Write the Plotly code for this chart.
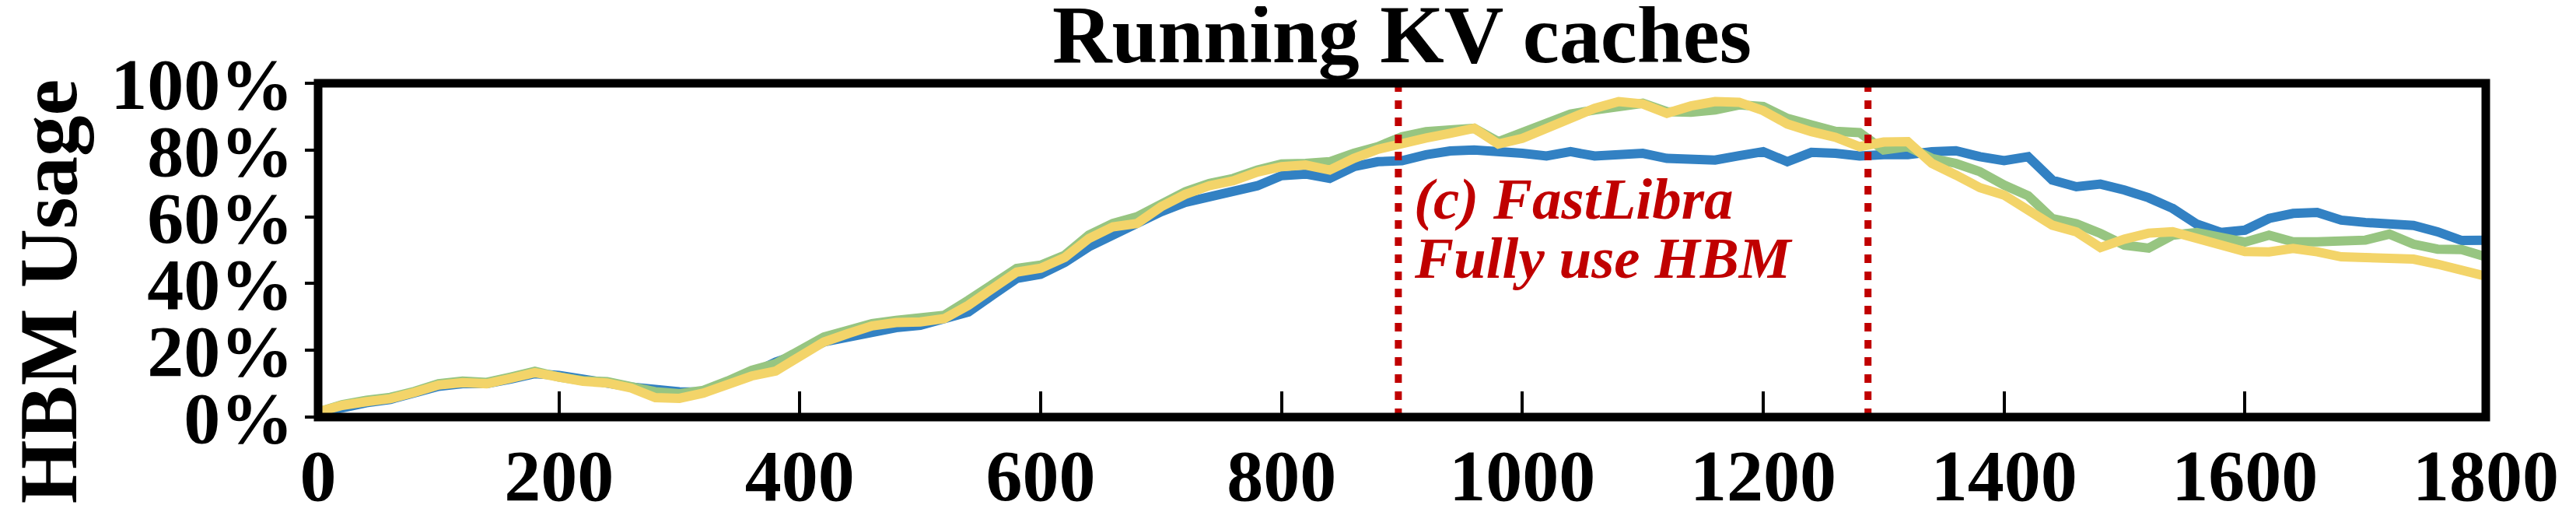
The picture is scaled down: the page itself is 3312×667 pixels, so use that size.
import plotly.graph_objects as go

# ---- data ----
time_s = list(range(0, 1801, 20))

kv_blue = [1.2, 3.0, 4.3, 5.3, 7.2, 9.2, 10.0, 10.0, 11.4, 13.0,
           12.5, 11.0, 10.2, 9.0, 8.2, 7.6, 7.5, 10.0, 13.0, 16.5,
           19.0, 22.5, 24.0, 25.8, 26.8, 27.5, 29.5, 31.5, 36.5, 41.5,
           42.8, 46.3, 51.0, 54.5, 58.5, 61.5, 64.3, 66.0, 67.5, 69.3,
           72.3, 72.8, 71.5, 75.0, 76.5, 76.8, 78.6, 79.7, 80.0, 79.8,
           79.0, 78.2, 79.5, 78.2, 78.5, 79.0, 77.5, 77.3, 77.0, 78.3,
           79.5, 76.5, 79.3, 79.0, 78.2, 78.6, 78.6, 79.5, 79.8, 78.0,
           76.8, 78.0, 71.0, 69.0, 69.8, 68.0, 65.7, 62.5, 57.8, 55.3,
           56.0, 59.5, 61.0, 61.3, 59.0, 58.3, 57.8, 57.4, 55.5, 52.9,
           53.0]

kv_green = [1.5, 3.7, 5.0, 5.9, 7.7, 10.0, 10.8, 10.4, 12.0, 13.7,
            12.0, 10.9, 10.6, 9.0, 7.6, 7.0, 8.0, 10.8, 14.0, 16.0,
            20.0, 24.0, 26.0, 28.0, 29.0, 29.5, 30.5, 35.0, 40.0, 44.5,
            45.5, 48.5, 54.5, 58.0, 60.0, 64.0, 67.5, 70.0, 71.5, 74.0,
            75.8, 76.0, 76.5, 79.0, 81.0, 84.0, 85.5, 86.0, 86.5, 82.5,
            85.5, 88.0, 90.8, 92.0, 92.8, 94.0, 91.5, 91.3, 92.0, 93.5,
            93.0, 89.5, 87.5, 85.6, 85.2, 80.0, 81.0, 77.5, 76.0, 73.5,
            69.5, 66.3, 59.5, 57.9, 55.0, 51.5, 50.6, 54.5, 55.3, 54.0,
            52.4, 54.5, 52.5, 52.5, 52.8, 53.0, 54.8, 51.8, 50.3, 50.2,
            48.0]

kv_yellow = [1.5, 3.5, 4.6, 5.5, 7.4, 9.6, 10.3, 10.0, 11.6, 13.3,
             12.0, 10.7, 10.2, 8.7, 5.8, 5.6, 7.2, 9.8, 12.3, 13.8,
             17.8, 22.5, 25.0, 27.3, 28.3, 28.5, 29.5, 33.5, 38.5, 43.4,
             44.6, 47.8, 53.5, 57.0, 58.0, 63.0, 66.7, 69.3, 70.8, 73.4,
             75.0, 75.5, 74.0, 77.5, 80.2, 82.2, 83.6, 85.0, 86.5, 81.8,
             83.5, 86.5, 89.8, 92.5, 94.5, 93.8, 91.0, 93.2, 94.5, 94.3,
             91.8, 87.8, 85.5, 83.8, 81.0, 82.4, 82.5, 76.0, 72.5, 68.7,
             66.5, 61.8, 57.5, 55.5, 50.8, 53.3, 55.1, 55.5, 53.5, 51.8,
             49.6, 49.5, 50.5, 49.5, 48.0, 47.8, 47.2, 47.3, 45.8, 43.8,
             42.2]

marker_times = [897, 1287]
x_ticks = list(range(0, 1801, 200))
y_ticks = [0, 20, 40, 60, 80, 100]

title_text = "Running KV caches"
ylabel_text = "HBM Usage"
note_line1 = "(c) FastLibra"
note_line2 = "Fully use HBM"

# ---- figure ----
FONT = "Liberation Serif"
RED = "#C00000"

fig = go.Figure()
for vals, col in [(kv_blue, "#3281C3"), (kv_green, "#97C581"), (kv_yellow, "#F3D469")]:
    fig.add_trace(go.Scatter(x=time_s, y=vals, mode="lines",
                             line=dict(color=col, width=12), showlegend=False,
                             hoverinfo="skip"))

for t in marker_times:
    fig.add_shape(type="line", xref="x", yref="paper", x0=t, x1=t, y0=0, y1=1,
                  line=dict(color=RED, width=9, dash="11px,11px"), layer="above")

fig.add_shape(type="rect", xref="paper", yref="paper", x0=0, x1=1, y0=0, y1=1,
              line=dict(color="black", width=11), layer="above")

fig.add_annotation(text="<b><i>%s</i></b>" % note_line1, xref="paper", yref="paper",
                   x=0.5050, y=0.655, xanchor="left", yanchor="middle", showarrow=False,
                   font=dict(family=FONT, size=75, color=RED))
fig.add_annotation(text="<b><i>%s</i></b>" % note_line2, xref="paper", yref="paper",
                   x=0.5050, y=0.477, xanchor="left", yanchor="middle", showarrow=False,
                   font=dict(family=FONT, size=75, color=RED))

fig.add_annotation(text="<b>%s</b>" % ylabel_text, xref="paper", yref="paper",
                   x=-0.1245, y=0.375, xanchor="center", yanchor="middle",
                   textangle=-90, showarrow=False,
                   font=dict(family=FONT, size=105, color="black"))

fig.update_layout(
    width=3312, height=667,
    margin=dict(l=401, r=124, t=99, b=106),
    paper_bgcolor="white", plot_bgcolor="white",
    title=dict(text="<b>%s</b>" % title_text, x=0.5, xref="paper",
               y=1 - 35 / 667, yref="container", yanchor="middle", xanchor="center",
               font=dict(family=FONT, size=106, color="black")),
    xaxis=dict(range=[0, 1800], tickvals=x_ticks,
               ticktext=["<b>%d</b>" % v for v in x_ticks],
               ticks="inside", ticklen=33,
               tickwidth=3.5, tickcolor="black", showgrid=False, zeroline=False,
               showline=False, ticklabelstandoff=12,
               tickfont=dict(family=FONT, size=94, color="black")),
    yaxis=dict(range=[0, 100], tickvals=y_ticks,
               ticktext=["<b>%d%%</b>" % v for v in y_ticks],
               ticks="outside", ticklen=16, tickwidth=3.5, tickcolor="black",
               showgrid=False, zeroline=False, showline=False, ticklabelstandoff=-4,
               tickfont=dict(family=FONT, size=94, color="black")),
)

fig.write_html("out.html")
